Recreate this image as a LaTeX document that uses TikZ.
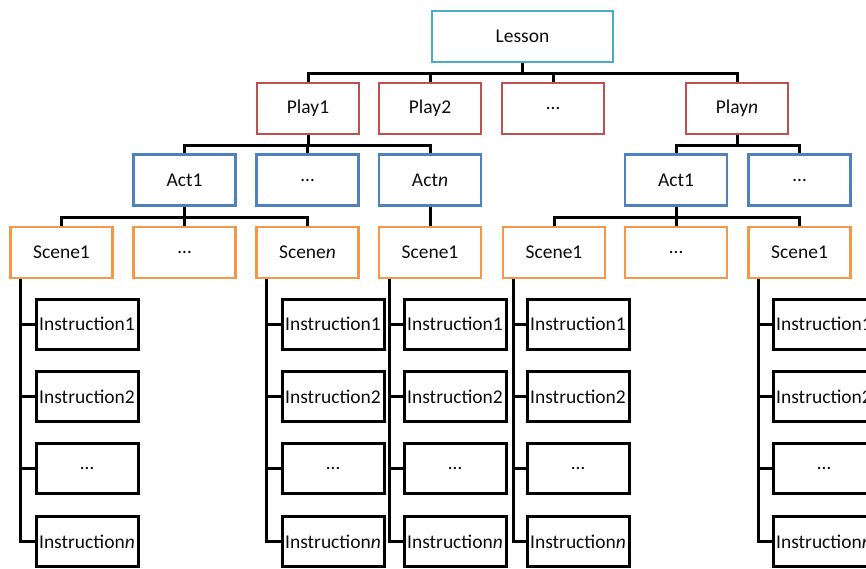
\documentclass[tikz,border=0pt]{standalone}
\usepackage{fontspec}
\setmainfont{Carlito}
\begin{document}
\begin{tikzpicture}[x=1pt,y=-1pt,
  box/.style={draw, line width=2.7pt, fill=white, inner sep=0pt,
    minimum width=102pt, minimum height=51pt, text=black!95,
    font=\fontsize{19.5}{20}\selectfont},
  lessonbox/.style={box, draw=lessoncol, minimum width=181pt},
  playbox/.style={box, draw=playcol},
  actbox/.style={box, draw=actcol},
  scenebox/.style={box, draw=scenecol},
  instbox/.style={box, draw=black, line width=3pt, minimum height=50pt},
  link/.style={draw=black, line width=3pt},
]
\definecolor{lessoncol}{HTML}{4BACC6}
\definecolor{playcol}{HTML}{C0504D}
\definecolor{actcol}{HTML}{4F81BD}
\definecolor{scenecol}{HTML}{F79646}
\useasboundingbox (0,0) rectangle (866,568);
\clip (0,0) rectangle (866,568);
\fill[white] (0,0) rectangle (866,568);

% lesson and plays
\node[lessonbox] (lesson) at (522.5,36.5) {Lesson};
\node[playbox] (p1) at (308,108.5) {Play1};
\node[playbox] (p2) at (430,108.5) {Play2};
\node[playbox] (pd) at (553,108.5) {…};
\node[playbox] (pn) at (737,108.5) {Play\textit{n}};

% acts
\node[actbox] (a1) at (184.5,180) {Act1};
\node[actbox] (ad) at (307.5,180) {…};
\node[actbox] (an) at (430,180) {Act\textit{n}};
\node[actbox] (b1) at (676,180) {Act1};
\node[actbox] (bd) at (799.5,180) {…};

% scenes
\node[scenebox] (s1) at (61.5,252.5) {Scene1};
\node[scenebox] (sd) at (184.5,252.5) {…};
\node[scenebox] (sn) at (307.5,252.5) {Scene\textit{n}};
\node[scenebox] (s2) at (430,252.5) {Scene1};
\node[scenebox] (s3) at (554,252.5) {Scene1};
\node[scenebox] (se) at (676,252.5) {…};
\node[scenebox] (s5) at (799.5,252.5) {Scene1};

% instruction columns
\foreach \col/\cx in {1/87, 2/333, 3/455, 4/578, 5/824} {
  \node[instbox] (i\col a) at (\cx,324)   {Instruction1};
  \node[instbox] (i\col b) at (\cx,396.5) {Instruction2};
  \node[instbox] (i\col c) at (\cx,468)   {…};
  \node[instbox] (i\col d) at (\cx,541.5) {Instruction\textit{n}};
}

% tree links
\foreach \child in {p1,p2,pd,pn}
  \draw[link] (lesson.south) -- ++(0,10) -| (\child.north);
\foreach \child in {a1,ad,an}
  \draw[link] (p1.south) -- ++(0,10) -| (\child.north);
\foreach \child in {b1,bd}
  \draw[link] (pn.south) -- ++(0,10) -| (\child.north);
\foreach \child in {s1,sd,sn}
  \draw[link] (a1.south) -- ++(0,11) -| (\child.north);
\draw[link] (an.south) -- (s2.north);
\foreach \child in {s3,se,s5}
  \draw[link] (b1.south) -- ++(0,11) -| (\child.north);

% instruction links
\foreach \sc/\col in {s1/1, sn/2, s2/3, s3/4, s5/5}
  \foreach \row in {a,b,c,d}
    \draw[link] ([xshift=11.5pt]\sc.south west) |- (i\col\row.west);
\end{tikzpicture}
\end{document}
